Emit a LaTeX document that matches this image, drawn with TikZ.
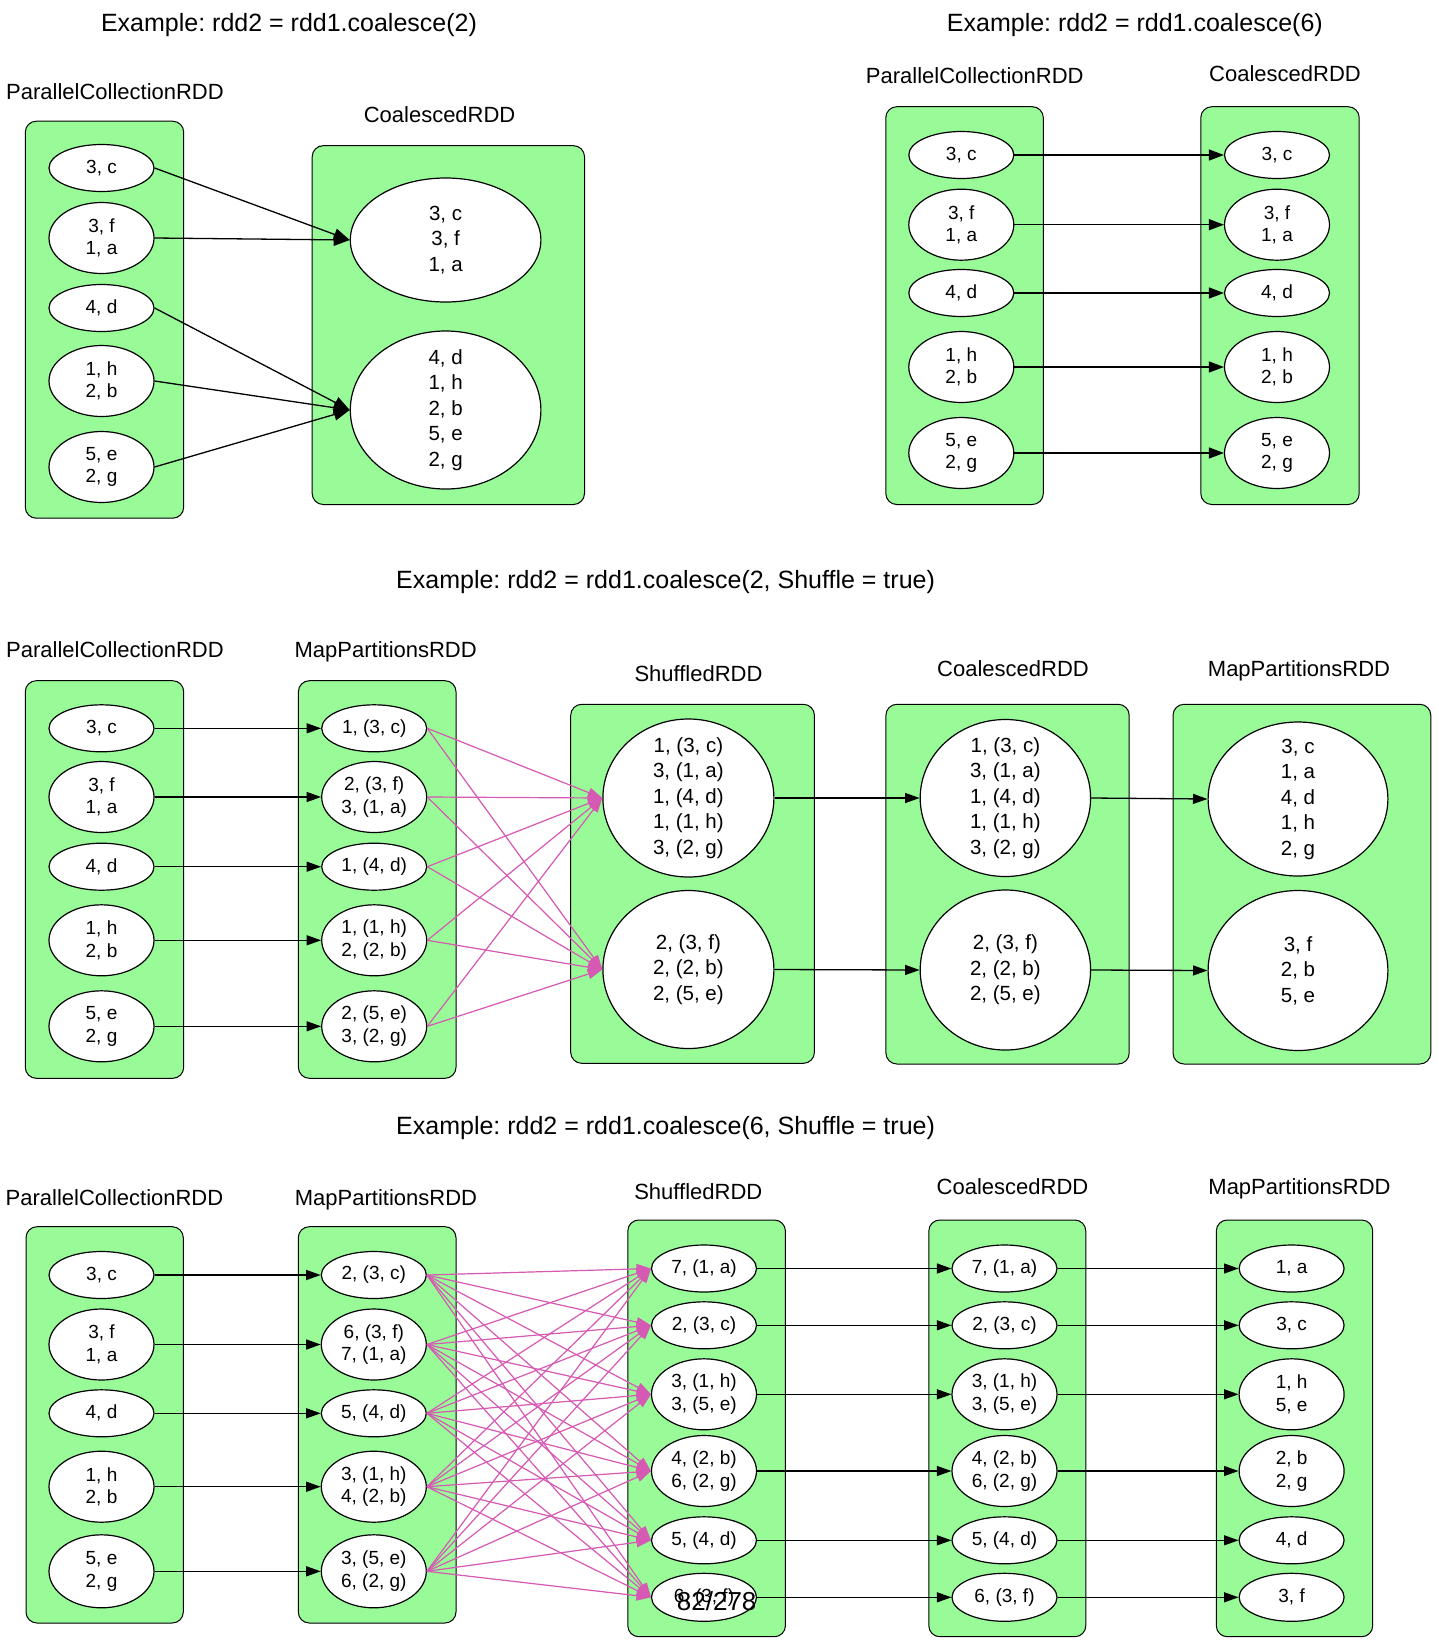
\documentclass[tikz,border=0pt]{standalone}
\usepackage{fontspec}
\setmainfont{Liberation Sans}
\usetikzlibrary{shapes.geometric,arrows.meta}
\definecolor{pgreen}{RGB}{152,251,152}
\definecolor{epink}{RGB}{214,90,180}
\frenchspacing
\tikzset{
  ttl/.style={font=\fontsize{25}{30}\selectfont, anchor=base, inner sep=0pt},
  lbl/.style={font=\fontsize{22}{26}\selectfont, anchor=base, inner sep=0pt},
  sm/.style={ellipse, draw, fill=white, line width=1.2pt, inner sep=-15pt, align=center,
     font=\fontsize{19}{22.5}\selectfont, minimum width=105pt, minimum height=47pt},
  dbl/.style={sm, minimum height=71pt},
  bg/.style={sm, font=\fontsize{20.5}{25.5}\selectfont},
  grp/.style={draw, fill=pgreen, rounded corners=11pt, line width=1pt},
  arr/.style={line width=1.3pt, -{Triangle[length=14.5pt,width=10pt]}},
  arrbig/.style={line width=1.3pt, -{Triangle[length=16pt,width=12pt]}},
  parr/.style={line width=1.2pt, draw=epink, fill=epink, -{Triangle[length=14.5pt,width=10pt]}},
}
\begin{document}
\begin{tikzpicture}[x=1pt,y=-1pt]
\fill[white] (0,0) rectangle (1438,1644);
\useasboundingbox (0,0) rectangle (1438,1644);

% ================= Section 1 =================
\node[ttl] (t1) at (289,31) {Example: rdd2 = rdd1.coalesce(2)};
\node[lbl] (l1a) at (115,99) {ParallelCollectionRDD};
\node[lbl] (l1b) at (439.6,122) {CoalescedRDD};
\draw[grp] (25.3,121.2) rectangle (183.7,518.2);
\draw[grp] (312.2,145.7) rectangle (584.5,504.5);
\node[sm]  (p1a) at (101.5,168) {3, c};
\node[dbl] (p1b) at (101.5,238) {3, f\\1, a};
\node[sm]  (p1c) at (101.5,308) {4, d};
\node[dbl] (p1d) at (101.5,381) {1, h\\2, b};
\node[dbl] (p1e) at (101.5,467) {5, e\\2, g};
\node[bg, minimum width=190.6pt, minimum height=124pt] (A1) at (445.6,240) {3, c\\3, f\\1, a};
\node[bg, minimum width=190.6pt, minimum height=158pt] (B1) at (445.6,410) {4, d\\1, h\\2, b\\5, e\\2, g};
\draw[arrbig] (p1a.east) -- (A1.west);
\draw[arrbig] (p1b.east) -- (A1.west);
\draw[arrbig] (p1c.east) -- (B1.west);
\draw[arrbig] (p1d.east) -- (B1.west);
\draw[arrbig] (p1e.east) -- (B1.west);

% ================= Section 2 =================
\node[ttl] (t2) at (1134.9,31) {Example: rdd2 = rdd1.coalesce(6)};
\node[lbl] (l2a) at (974.8,83) {ParallelCollectionRDD};
\node[lbl] (l2b) at (1285,81.6) {CoalescedRDD};
\draw[grp] (885.8,106.7) rectangle (1043.3,504.5);
\draw[grp] (1200.8,106.7) rectangle (1359.2,504.5);
\node[sm]  (p2a) at (961.3,155) {3, c};
\node[dbl] (p2b) at (961.3,224.7) {3, f\\1, a};
\node[sm]  (p2c) at (961.3,293) {4, d};
\node[dbl] (p2d) at (961.3,367) {1, h\\2, b};
\node[dbl] (p2e) at (961.3,453) {5, e\\2, g};
\node[sm]  (q2a) at (1277,155) {3, c};
\node[dbl] (q2b) at (1277,224.7) {3, f\\1, a};
\node[sm]  (q2c) at (1277,293) {4, d};
\node[dbl] (q2d) at (1277,367) {1, h\\2, b};
\node[dbl] (q2e) at (1277,453) {5, e\\2, g};
\foreach \k in {a,b,c,d,e} \draw[arr, -{Triangle[length=15pt,width=11pt]}] (p2\k.east) -- (q2\k.west);

% ================= Section 3 =================
\node[ttl] (t3) at (665.6,588) {Example: rdd2 = rdd1.coalesce(2, Shuffle = true)};
\node[lbl] (l3a) at (115,657) {ParallelCollectionRDD};
\node[lbl] (l3b) at (385.7,657) {MapPartitionsRDD};
\node[lbl] (l3c) at (698.5,681) {ShuffledRDD};
\node[lbl] (l3d) at (1013,676.5) {CoalescedRDD};
\node[lbl] (l3e) at (1299,676.5) {MapPartitionsRDD};
\draw[grp] (25.3,680.7) rectangle (183.7,1078.3);
\draw[grp] (298.4,680.7) rectangle (456,1078.3);
\draw[grp] (570.7,704.3) rectangle (814.4,1063.3);
\draw[grp] (885.9,704.3) rectangle (1129.2,1064);
\draw[grp] (1173,704.3) rectangle (1430.8,1064);
\node[sm]  (pc31) at (101.5,728.3) {3, c};
\node[dbl] (pc32) at (101.5,797) {3, f\\1, a};
\node[sm]  (pc33) at (101.5,866.7) {4, d};
\node[dbl] (pc34) at (101.5,940.3) {1, h\\2, b};
\node[dbl] (pc35) at (101.5,1026.3) {5, e\\2, g};
\node[sm]  (mp31) at (374.2,728.3) {1, (3, c)};
\node[dbl] (mp32) at (374.2,797) {2, (3, f)\\3, (1, a)};
\node[sm]  (mp33) at (374.2,866.7) {1, (4, d)};
\node[dbl] (mp34) at (374.2,940.3) {1, (1, h)\\2, (2, b)};
\node[dbl] (mp35) at (374.2,1026.3) {2, (5, e)\\3, (2, g)};
\node[bg, minimum width=171pt, minimum height=158pt] (sh31) at (688.4,798) {1, (3, c)\\3, (1, a)\\1, (4, d)\\1, (1, h)\\3, (2, g)};
\node[bg, minimum width=171pt, minimum height=158pt] (sh32) at (688.4,969.5) {2, (3, f)\\2, (2, b)\\2, (5, e)};
\node[bg, minimum width=170.4pt, minimum height=157pt] (co31) at (1005.4,798) {1, (3, c)\\3, (1, a)\\1, (4, d)\\1, (1, h)\\3, (2, g)};
\node[bg, minimum width=170.4pt, minimum height=160pt] (co32) at (1005.4,970) {2, (3, f)\\2, (2, b)\\2, (5, e)};
\node[bg, minimum width=179.8pt, minimum height=154pt] (mq31) at (1298,799) {3, c\\1, a\\4, d\\1, h\\2, g};
\node[bg, minimum width=179.8pt, minimum height=160pt] (mq32) at (1298,970.5) {3, f\\2, b\\5, e};
\foreach \i in {1,...,5} \draw[arr] (pc3\i.east) -- (mp3\i.west);
\foreach \i in {1,...,5} \foreach \j in {1,2} \draw[parr] (mp3\i.east) -- (sh3\j.west);
\foreach \j in {1,2} \draw[arr] (sh3\j.east) -- (co3\j.west);
\foreach \j in {1,2} \draw[arr] (co3\j.east) -- (mq3\j.west);

% ================= Section 4 =================
\node[ttl] (t4) at (665.6,1134) {Example: rdd2 = rdd1.coalesce(6, Shuffle = true)};
\node[lbl] (l4a) at (114.5,1205) {ParallelCollectionRDD};
\node[lbl] (l4b) at (386,1205) {MapPartitionsRDD};
\node[lbl] (l4c) at (698.3,1199) {ShuffledRDD};
\node[lbl] (l4d) at (1012.5,1194) {CoalescedRDD};
\node[lbl] (l4e) at (1299.5,1194) {MapPartitionsRDD};
\draw[grp] (26,1226.7) rectangle (183.3,1623);
\draw[grp] (298.3,1226.7) rectangle (456,1623);
\draw[grp] (627.8,1220) rectangle (785.4,1636.7);
\draw[grp] (928.8,1220) rectangle (1085.8,1636.7);
\draw[grp] (1216.3,1220) rectangle (1372.7,1636.7);
\node[sm]  (pc41) at (101.5,1275) {3, c};
\node[dbl] (pc42) at (101.5,1344.5) {3, f\\1, a};
\node[sm]  (pc43) at (101.5,1413.3) {4, d};
\node[dbl] (pc44) at (101.5,1486.7) {1, h\\2, b};
\node[dbl, minimum height=73pt] (pc45) at (101.5,1571.3) {5, e\\2, g};
\node[sm]  (mp41) at (373.8,1275) {2, (3, c)};
\node[dbl] (mp42) at (373.8,1344.5) {6, (3, f)\\7, (1, a)};
\node[sm]  (mp43) at (373.8,1413.3) {5, (4, d)};
\node[dbl] (mp44) at (373.8,1486.7) {3, (1, h)\\4, (2, b)};
\node[dbl, minimum height=73pt] (mp45) at (373.8,1571.3) {3, (5, e)\\6, (2, g)};
\node[sm]  (sh41) at (704,1268.5) {7, (1, a)};
\node[sm]  (sh42) at (704,1325.3) {2, (3, c)};
\node[dbl] (sh43) at (704,1394.3) {3, (1, h)\\3, (5, e)};
\node[dbl] (sh44) at (704,1471) {4, (2, b)\\6, (2, g)};
\node[sm]  (sh45) at (704,1540.3) {5, (4, d)};
\node[sm, minimum height=48pt] (sh46) at (704,1597.3) {6, (3, f)};
\node[sm]  (co41) at (1004.5,1268.5) {7, (1, a)};
\node[sm]  (co42) at (1004.5,1325.3) {2, (3, c)};
\node[dbl] (co43) at (1004.5,1394.3) {3, (1, h)\\3, (5, e)};
\node[dbl] (co44) at (1004.5,1471) {4, (2, b)\\6, (2, g)};
\node[sm]  (co45) at (1004.5,1540.3) {5, (4, d)};
\node[sm, minimum height=48pt] (co46) at (1004.5,1597.3) {6, (3, f)};
\node[sm]  (mq41) at (1291.6,1268.5) {1, a};
\node[sm]  (mq42) at (1291.6,1325.3) {3, c};
\node[dbl] (mq43) at (1291.6,1394.3) {1, h\\5, e};
\node[dbl] (mq44) at (1291.6,1471) {2, b\\2, g};
\node[sm]  (mq45) at (1291.6,1540.3) {4, d};
\node[sm, minimum height=48pt] (mq46) at (1291.6,1597.3) {3, f};
\foreach \i in {1,...,5} \draw[arr] (pc4\i.east) -- (mp4\i.west);
\foreach \i in {1,...,5} \foreach \j in {1,...,6} \draw[parr] (mp4\i.east) -- (sh4\j.west);
\foreach \j in {1,...,6} \draw[arr] (sh4\j.east) -- (co4\j.west);
\foreach \j in {1,...,6} \draw[arr] (co4\j.east) -- (mq4\j.west);

\node[font=\fontsize{26}{30}\selectfont, anchor=base, inner sep=0pt] (pg) at (716.7,1610) {82/278};
\end{tikzpicture}
\end{document}
